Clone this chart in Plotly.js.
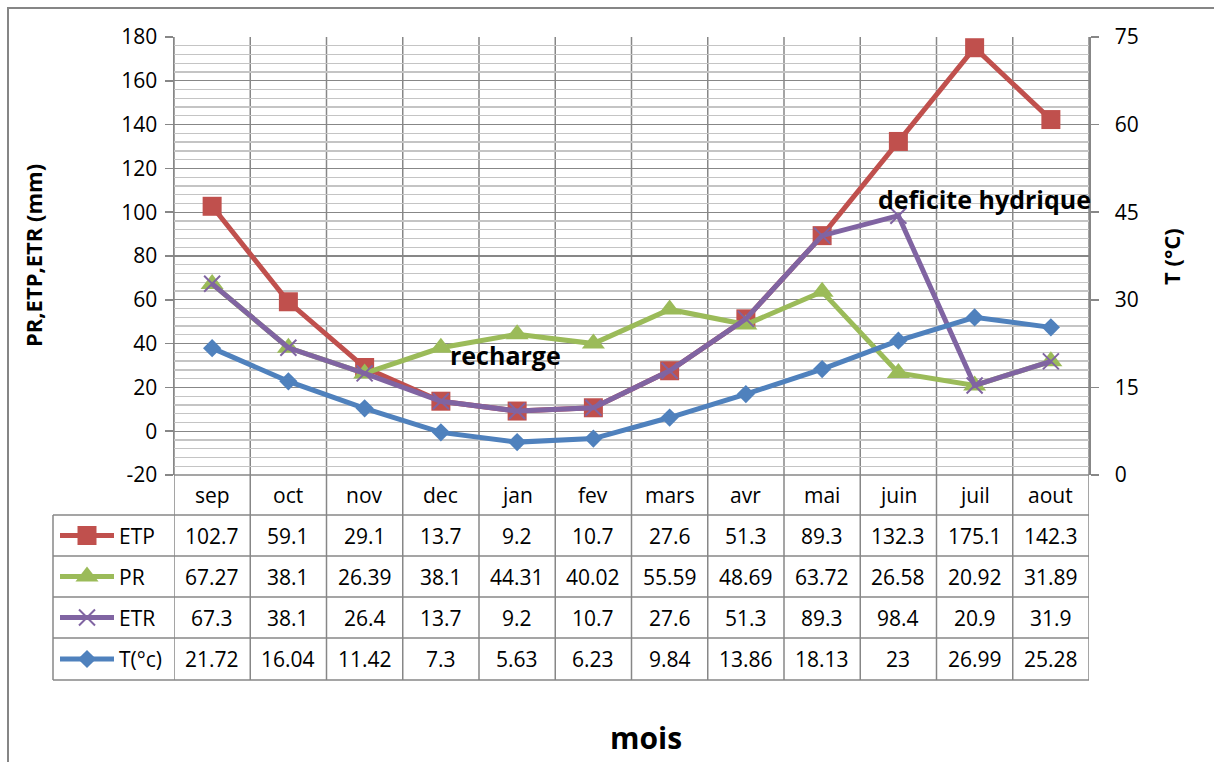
<!DOCTYPE html>
<html>
<head>
<meta charset="utf-8">
<script src="https://cdn.plot.ly/plotly-3.0.1.min.js"></script>
<style>html,body{margin:0;padding:0;background:#fff;}</style>
</head>
<body>
<div id="chart" style="width:1214px;height:762px;"></div>
<script>
// ---- data ----
const months = ["sep","oct","nov","dec","jan","fev","mars","avr","mai","juin","juil","aout"];
const ETP = [102.7, 59.1, 29.1, 13.7, 9.2, 10.7, 27.6, 51.3, 89.3, 132.3, 175.1, 142.3];
const PR  = [67.27, 38.1, 26.39, 38.1, 44.31, 40.02, 55.59, 48.69, 63.72, 26.58, 20.92, 31.89];
const ETR = [67.3, 38.1, 26.4, 13.7, 9.2, 10.7, 27.6, 51.3, 89.3, 98.4, 20.9, 31.9];
const T   = [21.72, 16.04, 11.42, 7.3, 5.63, 6.23, 9.84, 13.86, 18.13, 23, 26.99, 25.28];
const seriesNames = ["ETP", "PR", "ETR", "T(°c)"];
const leftTicks = [-20, 0, 20, 40, 60, 80, 100, 120, 140, 160, 180];
const rightTicks = [0, 15, 30, 45, 60, 75];

// ---- geometry helpers (pixel -> paper) ----
const W = 1214, H = 762;
const px = x => x / W;
const py = y => 1 - y / H;
const plotL = 174, plotR = 1089, plotT = 37, plotB = 475;
const rowEdges = [475, 515, 556, 597, 638, 680];
const tableL = 53;

const FONT = "Open Sans, Noto Sans, sans-serif";
const GRID = "#878787";
const MINOR = "#c4c4c4";

const styles = [
  {color: "#C0504D", symbol: "square", size: 19, lw: 0},
  {color: "#9BBB59", symbol: "triangle-up", size: 20, lw: 0},
  {color: "#8064A2", symbol: "x-thin-open", size: 16, lw: 2},
  {color: "#4F81BD", symbol: "diamond", size: 14, lw: 0}
];
const seriesData = [ETP, PR, ETR, T];

const traces = seriesData.map((vals, i) => ({
  type: "scatter", mode: "lines+markers",
  x: months, y: vals, name: seriesNames[i],
  xaxis: "x", yaxis: i === 3 ? "y2" : "y",
  line: {color: styles[i].color, width: 5},
  marker: {symbol: styles[i].symbol, size: styles[i].size, color: styles[i].color, opacity: 1,
           line: {color: styles[i].color, width: styles[i].lw}},
  cliponaxis: false,
  showlegend: false
}));

// legend samples in table (separate pixel-coordinate axis covering the page)
const legendTraces = seriesNames.map((n, i) => {
  const yc = (rowEdges[i + 1] + rowEdges[i + 2]) / 2;
  return {
    type: "scatter", mode: "lines+markers",
    x: [60, 87, 114], y: [yc, yc, yc],
    xaxis: "x3", yaxis: "y3",
    line: {color: styles[i].color, width: 5},
    marker: {symbol: styles[i].symbol, size: [0, styles[i].size, 0], color: styles[i].color, opacity: 1,
             line: {color: styles[i].color, width: styles[i].lw}},
    showlegend: false, hoverinfo: "skip", cliponaxis: false
  };
});

const shapes = [];
shapes.push({type: "rect", xref: "paper", yref: "paper", x0: px(8), x1: px(1216), y0: py(8), y1: py(766),
  line: {color: "#868686", width: 2}, fillcolor: "rgba(0,0,0,0)"});
rowEdges.forEach((y, k) => {
  shapes.push({type: "line", xref: "paper", yref: "paper",
    x0: px(k === 0 ? plotL : tableL), x1: px(plotR), y0: py(y), y1: py(y),
    line: {color: GRID, width: 1.5}});
});
for (let i = 0; i <= months.length; i++) {
  shapes.push({type: "line", xref: "x", yref: "paper", x0: i - 0.5, x1: i - 0.5,
    y0: py(plotT), y1: py(rowEdges[rowEdges.length - 1]),
    line: {color: GRID, width: 1.5}, layer: "below"});
}
shapes.push({type: "line", xref: "paper", yref: "paper", x0: px(tableL), x1: px(tableL),
  y0: py(rowEdges[1]), y1: py(rowEdges[rowEdges.length - 1]), line: {color: GRID, width: 1.5}});

const annotations = [];
const ann = (o) => annotations.push(Object.assign({showarrow: false, xanchor: "center", yanchor: "middle"}, o));
months.forEach(m => ann({xref: "x", yref: "paper", x: m, y: py((rowEdges[0] + rowEdges[1]) / 2),
  text: m, font: {family: FONT, size: 21, color: "#000"}}));
seriesData.forEach((vals, r) => {
  const yc = py((rowEdges[r + 1] + rowEdges[r + 2]) / 2);
  vals.forEach((v, c) => ann({xref: "x", yref: "paper", x: months[c], y: yc,
    text: String(v), font: {family: FONT, size: 21, color: "#000"}}));
  ann({xref: "paper", yref: "paper", x: px(117), y: yc, text: seriesNames[r], xanchor: "left",
    font: {family: FONT, size: 21, color: "#000"}});
});
ann({xref: "paper", yref: "paper", x: px(33), y: py(256), text: "PR,ETP,ETR (mm)", textangle: -90,
  font: {family: FONT, size: 22, color: "#000", weight: "bold"}});
ann({xref: "paper", yref: "paper", x: px(1171), y: py(257), text: "T (°C)", textangle: -90,
  font: {family: FONT, size: 22, color: "#000", weight: "bold"}});
ann({xref: "paper", yref: "paper", x: px(646), y: py(737), text: "mois",
  font: {family: FONT, size: 30, color: "#000", weight: "bold"}});
ann({xref: "paper", yref: "paper", x: px(505), y: py(355), text: "recharge",
  font: {family: FONT, size: 25, color: "#000", weight: "bold"}});
ann({xref: "paper", yref: "paper", x: px(984), y: py(199), text: "deficite hydrique",
  font: {family: FONT, size: 25, color: "#000", weight: "bold"}});

const layout = {
  width: W, height: H,
  margin: {l: 0, r: 0, t: 0, b: 0},
  paper_bgcolor: "#fff", plot_bgcolor: "rgba(0,0,0,0)",
  showlegend: false,
  font: {family: FONT, size: 21, color: "#000"},
  xaxis: {
    type: "category", domain: [px(plotL), px(plotR)], range: [-0.5, months.length - 0.5],
    showticklabels: false, showgrid: false, zeroline: false, showline: false, ticks: "", fixedrange: true,
    anchor: "y"
  },
  yaxis: {
    domain: [py(plotB), py(plotT)], range: [-20, 180], tickvals: leftTicks, ticktext: leftTicks.map(String),
    ticks: "outside", ticklen: 8, tickcolor: GRID, tickwidth: 1.5,
    showline: true, linecolor: GRID, linewidth: 1.5, anchor: "x",
    showgrid: true, gridcolor: GRID, gridwidth: 1.3, zeroline: false,
    minor: {dtick: 4, showgrid: true, gridcolor: MINOR, gridwidth: 1.3, ticks: ""},
    tickfont: {family: FONT, size: 21, color: "#000"}, ticklabelstandoff: 3
  },
  yaxis2: {
    overlaying: "y", side: "right", anchor: "x", range: [0, 75], tickvals: rightTicks,
    ticks: "outside", ticklen: 8, tickcolor: GRID, tickwidth: 1.5,
    showline: true, linecolor: GRID, linewidth: 1.5, showgrid: false, zeroline: false,
    tickfont: {family: FONT, size: 21, color: "#000"}, ticklabelstandoff: 12
  },
  xaxis3: {domain: [0, 1], range: [0, W], visible: false, fixedrange: true, anchor: "y3"},
  yaxis3: {domain: [0, 1], range: [H, 0], visible: false, fixedrange: true, anchor: "x3"},
  shapes: shapes,
  annotations: annotations
};

Plotly.newPlot("chart", traces.concat(legendTraces), layout, {displayModeBar: false, staticPlot: true});
</script>
</body>
</html>
